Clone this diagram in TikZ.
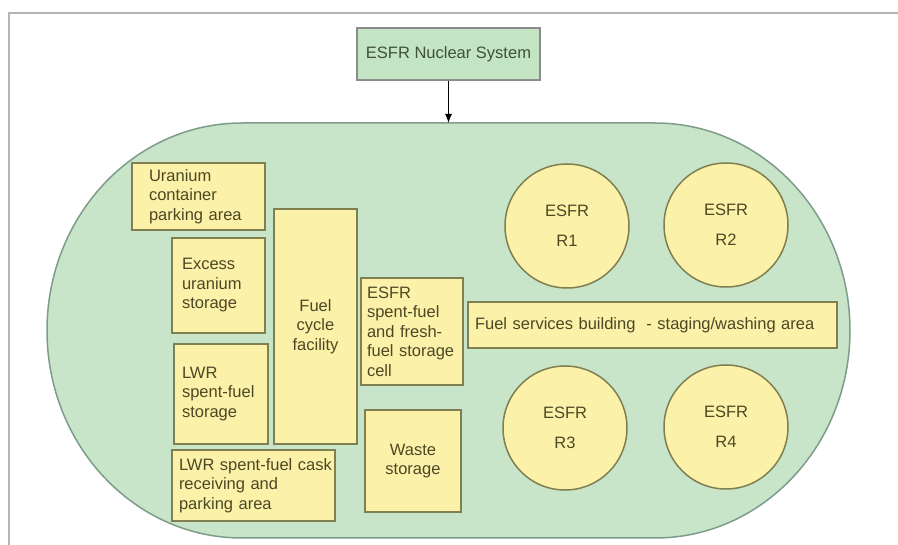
\documentclass[tikz,border=0pt]{standalone}
\usepackage{fontspec}
\setmainfont{Liberation Sans}
\usetikzlibrary{arrows.meta}
\definecolor{ovalfill}{HTML}{C8E4C9}
\definecolor{ovaldraw}{HTML}{7E9C8A}
\definecolor{boxfill}{HTML}{FBF1A9}
\definecolor{boxdraw}{HTML}{7F7F4F}
\definecolor{txt}{HTML}{4C4824}
\definecolor{topfill}{HTML}{C4E5C4}
\definecolor{topdraw}{HTML}{8C8C8C}
\definecolor{toptxt}{HTML}{3E5236}
\definecolor{framegray}{HTML}{B4B4B4}
\begin{document}
\begin{tikzpicture}[x=1pt,y=-1pt,
  every node/.style={font=\fontsize{16.5}{19.5}\selectfont, text=txt},
  area/.style={rectangle, draw=boxdraw, fill=boxfill, line width=1.8pt, inner ysep=0pt, outer sep=0pt},
  reactor/.style={circle, draw=boxdraw, fill=boxfill, line width=1.5pt, minimum size=124pt, inner sep=0pt, align=center, font=\fontsize{16.5}{30}\selectfont},
  topbox/.style={rectangle, draw=topdraw, fill=topfill, line width=1.5pt, minimum width=183pt, minimum height=52pt, text=toptxt},
  oval/.style={fill=ovalfill, draw=ovaldraw, line width=1.5pt},
  link/.style={draw=black, line width=1.2pt, -{Latex[length=9pt,width=7pt]}}
]
\useasboundingbox (0,0) rectangle (898,545);
% screenshot frame
\draw[framegray, line width=1.2pt] (9,545) -- (9,13) -- (898,13);

% site outline
\draw[oval] (242,123) -- (655,123)
  arc[start angle=-90, end angle=90, x radius=195, y radius=207.5]
  -- (242,538)
  arc[start angle=90, end angle=270, x radius=195, y radius=207.5] -- cycle;
\coordinate (ovaltop) at (448.5,123);

% top box
\node[topbox] (sys) at (448.5,54) {ESFR Nuclear System};
\draw[link] (sys) -- (ovaltop);

% areas
\node[area, minimum width=133pt, minimum height=67pt, inner xsep=17pt, text width=99pt, align=left]
  (ura) at (198.5,196.5) {Uranium\\container\\parking area};
\node[area, minimum width=93pt, minimum height=95pt, inner xsep=10pt, text width=73pt, align=left]
  (exc) at (218.5,285.5) {Excess\\uranium\\storage};
\node[area, minimum width=83pt, minimum height=235pt, inner xsep=2pt, text width=79pt, align=center]
  (fcf) at (315.5,326.5) {Fuel\\cycle\\facility};
\node[area, minimum width=102pt, minimum height=107pt, inner xsep=6pt, text width=90pt, align=left]
  (esp) at (412,331.5) {ESFR\\spent-fuel\\and fresh-\\fuel storage\\cell};
\node[area, minimum width=369pt, minimum height=46pt, inner xsep=7pt, text width=355pt, align=left]
  (fsb) at (652.5,325) {Fuel services building\ \ - staging/washing area};
\node[area, minimum width=94pt, minimum height=100pt, inner xsep=8pt, text width=78pt, align=left]
  (lws) at (221,394) {LWR\\spent-fuel\\storage};
\node[area, minimum width=163pt, minimum height=71pt, inner xsep=7pt, text width=149pt, align=left]
  (lwc) at (253.5,485.5) {\mbox{LWR spent-fuel cask}\\receiving and\\parking area};
\node[area, minimum width=96pt, minimum height=102pt, inner xsep=4pt, text width=88pt, align=center]
  (wst) at (413,461) {Waste\\storage};

% reactors
\node[reactor] (r1) at (567,226) {ESFR\\R1};
\node[reactor] (r2) at (726,225) {ESFR\\R2};
\node[reactor] (r3) at (565,428) {ESFR\\R3};
\node[reactor] (r4) at (726,427) {ESFR\\R4};
\end{tikzpicture}
\end{document}
